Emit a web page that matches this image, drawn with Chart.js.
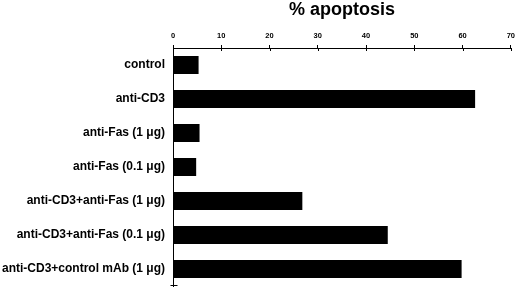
<!DOCTYPE html>
<html>
<head>
<meta charset="utf-8">
<script src="https://cdn.jsdelivr.net/npm/chart.js@4/dist/chart.umd.min.js"></script>
<style>
  html, body { margin: 0; padding: 0; background: #fff; }
  canvas { display: block; }
</style>
</head>
<body>
<canvas id="apoptosisChart" width="520" height="288"></canvas>
<script>
const categories = [
  "control",
  "anti-CD3",
  "anti-Fas (1 \u03bcg)",
  "anti-Fas (0.1 \u03bcg)",
  "anti-CD3+anti-Fas (1 \u03bcg)",
  "anti-CD3+anti-Fas (0.1 \u03bcg)",
  "anti-CD3+control mAb (1 \u03bcg)"
];
const apoptosis = [5.3, 62.6, 5.5, 4.8, 26.8, 44.5, 59.8];
const xTicks = [0, 10, 20, 30, 40, 50, 60, 70];

// tick marks that cross the axis lines, like the original figure
const crossTicks = {
  id: "crossTicks",
  afterDraw(chart) {
    const { ctx, chartArea, scales } = chart;
    ctx.save();
    ctx.strokeStyle = "#000";
    ctx.lineWidth = 1;
    ctx.beginPath();
    xTicks.forEach((value) => {
      const x = Math.round(scales.x.getPixelForValue(value)) + 0.5;
      ctx.moveTo(x, chartArea.top);
      ctx.lineTo(x, chartArea.top + 3);
    });
    const left = Math.round(chartArea.left) + 0.5;
    const bottom = Math.round(chartArea.bottom) - 0.5;
    ctx.moveTo(left - 3, bottom);
    ctx.lineTo(left + 4, bottom);
    ctx.stroke();
    ctx.restore();
  }
};

const context = document.getElementById("apoptosisChart").getContext("2d");
new Chart(context, {
  type: "bar",
  data: {
    labels: categories,
    datasets: [{
      label: "% apoptosis",
      data: apoptosis,
      backgroundColor: "#000",
      borderWidth: 0,
      categoryPercentage: 1,
      barPercentage: 0.53
    }]
  },
  options: {
    indexAxis: "y",
    responsive: false,
    animation: false,
    layout: { padding: { left: 0, right: 7, top: 0, bottom: 2 } },
    plugins: {
      legend: { display: false },
      tooltip: { enabled: false }
    },
    scales: {
      x: {
        position: "top",
        min: 0,
        max: 70,
        afterBuildTicks: (scale) => {
          scale.ticks = xTicks.map((value) => ({ value }));
        },
        afterFit: (scale) => { scale.height = 48; },
        title: {
          display: true,
          text: "% apoptosis",
          color: "#000",
          font: { family: "Liberation Sans, Arial", size: 18, weight: "bold", lineHeight: 1 },
          padding: { top: 1, bottom: 0 }
        },
        grid: { drawOnChartArea: false, drawTicks: true, tickLength: 3, color: "#000" },
        border: { display: true, color: "#000", width: 1 },
        ticks: {
          color: "#000",
          padding: 5,
          font: { family: "Liberation Sans, Arial", size: 7.5, weight: "bold" }
        }
      },
      y: {
        afterFit: (scale) => {
          scale.width = 173;
          scale.paddingTop = 0;
          scale.paddingBottom = 0;
        },
        grid: { display: false, drawTicks: false },
        border: { display: true, color: "#000", width: 1 },
        ticks: {
          color: "#000",
          padding: 8,
          font: { family: "Liberation Sans, Arial", size: 12, weight: "bold" }
        }
      }
    }
  },
  plugins: [crossTicks]
});
</script>
</body>
</html>
